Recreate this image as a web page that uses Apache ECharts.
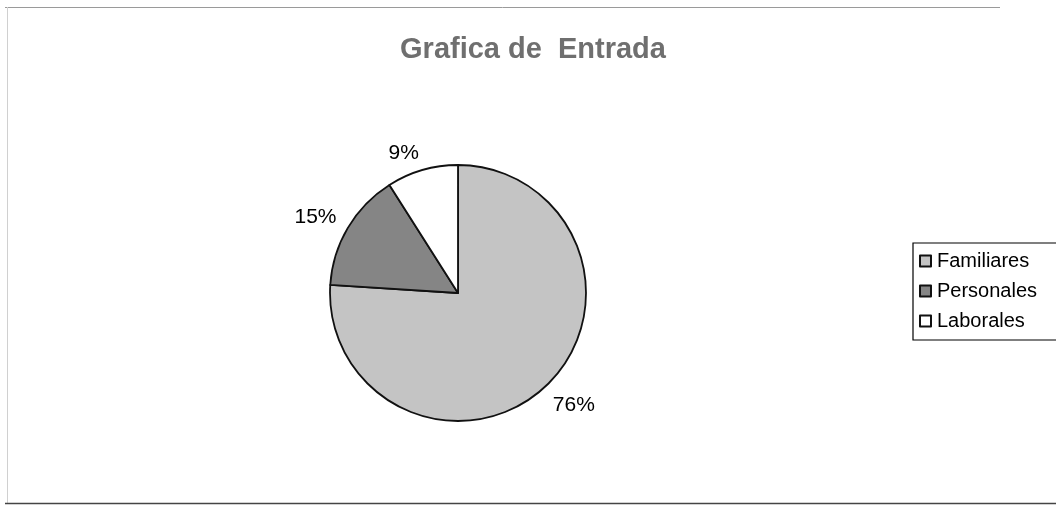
<!DOCTYPE html>
<html><head><meta charset="utf-8">
<script src="https://cdn.jsdelivr.net/npm/echarts@6/dist/echarts.min.js"></script>
<style>html,body{margin:0;padding:0;background:#fff}#c{width:1056px;height:507px}</style>
</head><body><div id="c"></div>
<script>
const categories = ['Familiares', 'Personales', 'Laborales'];
const values = [76, 15, 9];
const colors = ['#c4c4c4', '#858585', '#ffffff'];
const labelNudges = [[-6, 10], [4, -5], [5, -5]];

const chart = echarts.init(document.getElementById('c'), null, {renderer: 'canvas'});
chart.setOption({
  animation: false,
  backgroundColor: '#fff',
  title: {
    text: 'Grafica de  Entrada',
    left: 528, top: 30, textAlign: 'center',
    textStyle: {fontFamily: 'Liberation Sans, Arial', fontWeight: 'bold', fontSize: 29, color: '#6f6f6f'}
  },
  legend: {
    orient: 'vertical',
    left: 913, top: 243,
    padding: [8, 30, 9, 6],
    itemGap: 10,
    itemWidth: 11, itemHeight: 11,
    icon: 'rect',
    borderColor: '#000', borderWidth: 1.2,
    textStyle: {fontFamily: 'Liberation Sans, Arial', fontSize: 20, lineHeight: 20, color: '#000', padding: [0, 0, 0, 1]},
    data: categories
  },
  graphic: [
    {type: 'line', shape: {x1: 5, y1: 7.5, x2: 1000, y2: 7.5}, style: {stroke: '#9a9a9a', lineWidth: 1}},
    {type: 'line', shape: {x1: 7.5, y1: 7, x2: 7.5, y2: 503}, style: {stroke: '#d0d0d0', lineWidth: 1}},
    {type: 'line', shape: {x1: 5, y1: 503.5, x2: 1056, y2: 503.5}, style: {stroke: '#444', lineWidth: 1.5}}
  ],
  series: [{
    type: 'pie',
    center: [458, 293],
    radius: 128,
    startAngle: 90,
    clockwise: true,
    data: categories.map((n, i) => ({
      name: n, value: values[i],
      itemStyle: {color: colors[i]},
      label: {offset: labelNudges[i]}
    })),
    itemStyle: {borderColor: '#111', borderWidth: 1.8},
    label: {
      show: true, position: 'outside',
      formatter: p => p.value + '%',
      fontFamily: 'Liberation Sans, Arial', fontSize: 21, color: '#000'
    },
    labelLine: {show: false, length: 12, length2: 0},
    emphasis: {disabled: true}
  }]
});
</script></body></html>
